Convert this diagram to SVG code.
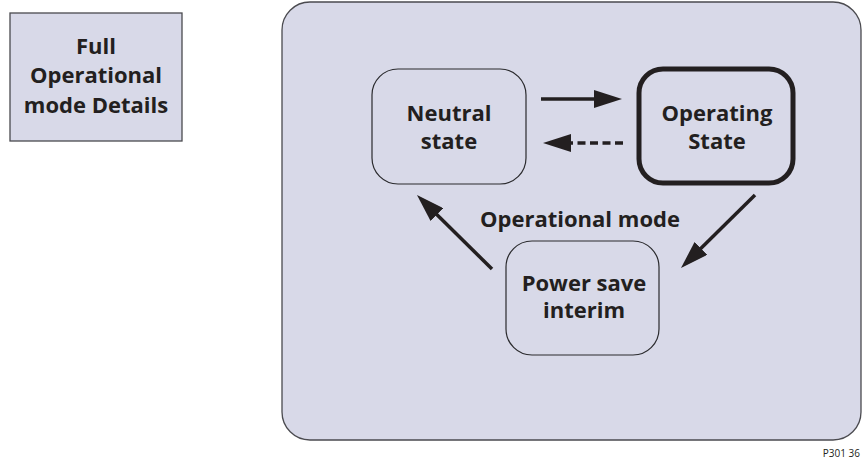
<svg xmlns="http://www.w3.org/2000/svg" width="863" height="459" viewBox="0 0 863 459">
<defs>
<style>
.t{font-family:"Open Sans","Noto Sans",sans-serif;font-weight:bold;font-size:22px;fill:#231f20;text-anchor:middle}
.box{fill:#d8d9e8;stroke:#4a4a4f;stroke-width:1.3}
.node{fill:#d8d9e8;stroke:#2a2a2d;stroke-width:1.2}
.arr{stroke:#231f20;stroke-width:3.5;fill:none}
</style>
<marker id="ah" viewBox="0 0 28 18" refX="18" refY="9" markerWidth="28" markerHeight="18" markerUnits="userSpaceOnUse" orient="auto">
<path d="M0,0 L28,9 L0,18 Z" fill="#231f20"/>
</marker>
</defs>
<rect width="863" height="459" fill="#ffffff"/>
<g id="legend">
<rect class="box" x="10" y="13" width="172" height="128"/>
<text class="t" x="96" y="54">Full</text>
<text class="t" x="96" y="83">Operational</text>
<text class="t" x="96" y="113">mode Details</text>
</g>
<g id="container">
<rect class="box" x="282" y="2" width="579" height="438" rx="28" ry="28"/>
<text class="t" x="580" y="227">Operational mode</text>
</g>
<g id="neutral">
<rect class="node" x="372" y="69" width="154" height="115" rx="26" ry="26"/>
<text class="t" x="449" y="121">Neutral</text>
<text class="t" x="449" y="149">state</text>
</g>
<g id="operating">
<rect x="639" y="69" width="154" height="114" rx="24" ry="24" fill="#d8d9e8" stroke="#231f20" stroke-width="5"/>
<text class="t" x="717" y="121">Operating</text>
<text class="t" x="717" y="149">State</text>
</g>
<g id="powersave">
<rect class="node" x="506" y="241" width="153" height="114" rx="26" ry="26"/>
<text class="t" x="584" y="291">Power save</text>
<text class="t" x="584" y="318">interim</text>
</g>
<g id="connectors">
<line class="arr" x1="541" y1="99" x2="612" y2="99" marker-end="url(#ah)"/>
<line class="arr" x1="623" y1="143" x2="553" y2="143" stroke-dasharray="8,4.5" marker-end="url(#ah)"/>
<line class="arr" x1="755" y1="195" x2="688.1" y2="261" marker-end="url(#ah)"/>
<line class="arr" x1="492" y1="269" x2="424.1" y2="202" marker-end="url(#ah)"/>
</g>
<text x="860" y="457" font-family="'Open Sans','Noto Sans',sans-serif" font-size="10" fill="#231f20" text-anchor="end">P301 36</text>
</svg>
